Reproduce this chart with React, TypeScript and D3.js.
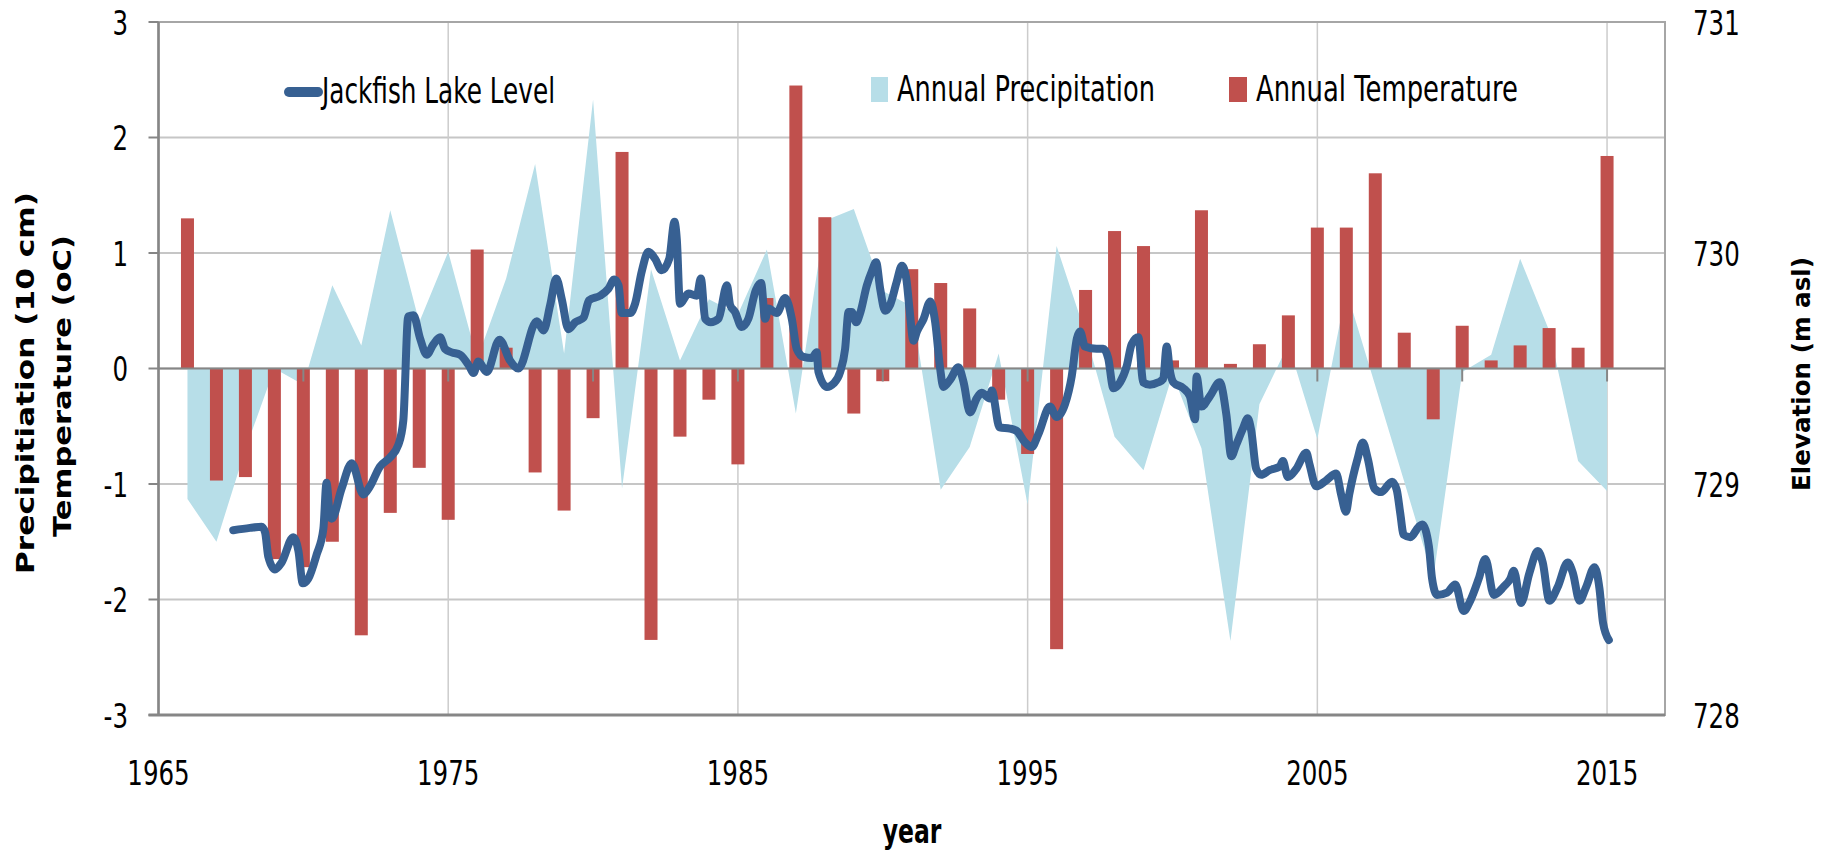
import React, { useEffect, useRef } from 'react';
import * as d3 from 'd3';

// yearly series, 1966-2015
const years = [
  1966, 1967, 1968, 1969, 1970, 1971, 1972, 1973, 1974, 1975,
  1976, 1977, 1978, 1979, 1980, 1981, 1982, 1983, 1984, 1985,
  1986, 1987, 1988, 1989, 1990, 1991, 1992, 1993, 1994, 1995,
  1996, 1997, 1998, 1999, 2000, 2001, 2002, 2003, 2004, 2005,
  2006, 2007, 2008, 2009, 2010, 2011, 2012, 2013, 2014, 2015,
];

// precipitation anomaly (10 cm)
const precipitation = [
  -1.13, -1.5, -0.7, 0.0, -0.14, 0.72, 0.2, 1.37, 0.4, 1.01,
  0.08, 0.78, 1.77, 0.13, 2.33, -1.04, 0.86, 0.07, 0.6, 0.47,
  1.03, -0.39, 1.28, 1.38, 0.67, 0.54, -1.05, -0.68, 0.13, -1.18,
  1.06, 0.3, -0.59, -0.88, -0.05, -0.69, -2.36, -0.31, 0.21, -0.61,
  0.68, -0.15, -0.98, -1.82, -0.03, 0.12, 0.95, 0.33, -0.8, -1.06,
];

// temperature anomaly (oC)
const temperature = [
  1.3, -0.97, -0.94, -1.65, -1.72, -1.5, -2.31, -1.25, -0.86, -1.31,
  1.03, 0.18, -0.9, -1.23, -0.43, 1.875, -2.35, -0.59, -0.27, -0.83,
  0.61, 2.45, 1.31, -0.39, -0.11, 0.86, 0.74, 0.52, -0.27, -0.74,
  -2.43, 0.68, 1.19, 1.06, 0.07, 1.37, 0.04, 0.21, 0.46, 1.22,
  1.22, 1.69, 0.31, -0.44, 0.37, 0.07, 0.2, 0.35, 0.18, 1.84,
];

// Jackfish Lake level (m asl), sampled off the plot
const lakeTime = [
  1967.58, 1968.16, 1968.56, 1968.68, 1968.79, 1969.02, 1969.25, 1969.65, 1969.83, 1969.98,
  1970.17, 1970.46, 1970.69, 1970.8, 1970.92, 1970.98, 1971.32, 1971.67, 1972.07, 1972.3,
  1972.64, 1972.99, 1973.28, 1973.45, 1973.62, 1973.8, 1974.03, 1974.26, 1974.49, 1974.72,
  1974.89, 1975.12, 1975.41, 1975.75, 1975.87, 1976.04, 1976.33, 1976.77, 1977.13, 1977.42,
  1978.06, 1978.29, 1978.52, 1978.73, 1978.92, 1979.15, 1979.38, 1979.67, 1979.86, 1980.24,
  1980.53, 1980.73, 1980.88, 1980.99, 1981.28, 1981.45, 1981.68, 1981.91, 1982.14, 1982.37,
  1982.63, 1982.81, 1982.89, 1983.0, 1983.29, 1983.58, 1983.72, 1983.87, 1984.06, 1984.33,
  1984.62, 1984.73, 1984.9, 1985.13, 1985.36, 1985.62, 1985.8, 1985.94, 1986.05, 1986.34,
  1986.63, 1986.86, 1987.03, 1987.26, 1987.55, 1987.72, 1987.78, 1988.07, 1988.3, 1988.53,
  1988.7, 1988.82, 1988.93, 1989.08, 1989.22, 1989.45, 1989.62, 1989.77, 1989.91, 1990.08,
  1990.25, 1990.48, 1990.66, 1990.81, 1990.92, 1991.06, 1991.18, 1991.41, 1991.64, 1991.81,
  1991.98, 1992.09, 1992.32, 1992.61, 1992.79, 1993.01, 1993.24, 1993.41, 1993.7, 1993.76,
  1994.03, 1994.39, 1994.62, 1994.91, 1995.14, 1995.37, 1995.77, 1996.0, 1996.29, 1996.52,
  1996.7, 1996.81, 1996.98, 1997.38, 1997.61, 1997.78, 1997.96, 1998.19, 1998.42, 1998.59,
  1998.82, 1998.99, 1999.22, 1999.51, 1999.68, 1999.8, 1999.91, 2000.03, 2000.37, 2000.6,
  2000.78, 2000.83, 2001.0, 2001.29, 2001.63, 2001.86, 2002.03, 2002.2, 2002.43, 2002.6,
  2002.72, 2002.89, 2003.06, 2003.35, 2003.7, 2003.81, 2003.98, 2004.27, 2004.62, 2004.73,
  2004.96, 2005.3, 2005.65, 2005.82, 2005.99, 2006.1, 2006.39, 2006.57, 2006.74, 2006.97,
  2007.2, 2007.58, 2007.74, 2007.86, 2007.98, 2008.21, 2008.5, 2008.62, 2008.85, 2008.96,
  2009.13, 2009.48, 2009.76, 2010.05, 2010.28, 2010.57, 2010.8, 2011.09, 2011.43, 2011.66,
  2011.78, 2012.03, 2012.32, 2012.61, 2012.78, 2013.01, 2013.3, 2013.64, 2013.82, 2014.05,
  2014.28, 2014.57, 2014.74, 2014.86, 2015.06,
];
const lakeLevel = [
  728.8, 728.81, 728.815, 728.79, 728.685, 728.63, 728.66, 728.77, 728.71, 728.57,
  728.59, 728.695, 728.805, 729.005, 728.86, 728.85, 728.98, 729.09, 728.955, 728.99,
  729.075, 729.115, 729.17, 729.275, 729.725, 729.73, 729.63, 729.56, 729.605, 729.635,
  729.585, 729.57, 729.56, 729.505, 729.48, 729.53, 729.485, 729.625, 729.535, 729.5,
  729.705, 729.665, 729.775, 729.89, 729.8, 729.67, 729.7, 729.72, 729.795, 729.815,
  729.845, 729.885, 729.86, 729.74, 729.74, 729.78, 729.92, 730.005, 729.975, 729.925,
  729.975, 730.135, 730.06, 729.78, 729.825, 729.815, 729.89, 729.715, 729.7, 729.715,
  729.86, 729.775, 729.745, 729.68, 729.715, 729.84, 729.87, 729.715, 729.76, 729.74,
  729.805, 729.715, 729.585, 729.55, 729.545, 729.57, 729.485, 729.42, 729.435, 729.485,
  729.585, 729.745, 729.745, 729.7, 729.74, 729.86, 729.92, 729.96, 729.845, 729.75,
  729.775, 729.875, 729.945, 729.89, 729.76, 729.62, 729.66, 729.715, 729.79, 729.7,
  729.5, 729.42, 729.45, 729.505, 729.44, 729.31, 729.37, 729.395, 729.37, 729.405,
  729.245, 729.24, 729.23, 729.18, 729.16, 729.215, 729.335, 729.29, 729.345, 729.465,
  729.63, 729.66, 729.595, 729.585, 729.585, 729.545, 729.415, 729.44, 729.51, 729.605,
  729.635, 729.44, 729.43, 729.44, 729.455, 729.595, 729.49, 729.44, 729.415, 729.38,
  729.28, 729.465, 729.335, 729.38, 729.44, 729.3, 729.12, 729.17, 729.24, 729.285,
  729.23, 729.065, 729.04, 729.06, 729.075, 729.1, 729.03, 729.065, 729.135, 729.085,
  728.99, 729.015, 729.045, 728.955, 728.88, 728.955, 729.11, 729.18, 729.11, 728.98,
  728.965, 729.01, 728.975, 728.875, 728.78, 728.77, 728.815, 728.825, 728.73, 728.59,
  728.52, 728.53, 728.565, 728.45, 728.495, 728.59, 728.675, 728.52, 728.555, 728.59,
  728.625, 728.485, 728.615, 728.71, 728.66, 728.495, 728.555, 728.66, 728.615, 728.495,
  728.555, 728.64, 728.545, 728.4, 728.325,
];

const leftTicks = [-3, -2, -1, 0, 1, 2, 3];
const rightTicks = [728, 729, 730, 731];
const yearLabels = [1965, 1975, 1985, 1995, 2005, 2015];
const zeroTicks = [1970, 1975, 1980, 1985, 1990, 1995, 2000, 2005, 2010, 2015];

const WIDTH = 1833;
const HEIGHT = 856;
const FONT = "'DejaVu Sans', Verdana, sans-serif";
const STRETCH = 1.4; // the original picture is stretched vertically

const App: React.FC = () => {
  const svgRef = useRef<SVGSVGElement>(null);

  useEffect(() => {
    if (!svgRef.current) return;
    const svg = d3.select(svgRef.current);
    svg.selectAll('*').remove();

    const left = 158.5, right = 1665, top = 22, bottom = 715;

    const x = d3.scaleLinear().domain([1965, 2017]).range([left, right]);
    const y = d3.scaleLinear().domain([-3, 3]).range([bottom, top]);
    const yR = d3.scaleLinear().domain([728, 731]).range([bottom, top]);

    // stretched horizontal text
    const label = (txt: string, tx: number, ty: number, size: number, anchor: string, weight = 'normal', len = 0) => {
      const t = svg.append('text')
        .attr('transform', `translate(${tx},${ty}) scale(1,${STRETCH})`)
        .attr('font-family', FONT)
        .attr('font-size', size)
        .attr('font-weight', weight)
        .attr('text-anchor', anchor)
        .attr('fill', '#000')
        .text(txt);
      if (len) t.attr('textLength', len).attr('lengthAdjust', 'spacingAndGlyphs');
      return t;
    };

    // gridlines
    svg.append('g')
      .selectAll('line')
      .data(leftTicks)
      .join('line')
      .attr('x1', left).attr('x2', right)
      .attr('y1', d => y(d)).attr('y2', d => y(d))
      .attr('stroke', '#c6c6c6')
      .attr('stroke-width', 2);

    svg.append('g')
      .selectAll('line')
      .data(yearLabels.slice(1))
      .join('line')
      .attr('x1', d => x(d)).attr('x2', d => x(d))
      .attr('y1', top).attr('y2', bottom)
      .attr('stroke', '#cccccc')
      .attr('stroke-width', 1.5);

    // precipitation area
    const area = d3.area<number>()
      .x((_, i) => x(years[i]))
      .y0(y(0))
      .y1(d => y(d));
    svg.append('path')
      .datum(precipitation)
      .attr('d', area)
      .attr('fill', '#b7dee8');

    // temperature bars
    const barW = 13;
    svg.append('g')
      .selectAll('rect')
      .data(temperature)
      .join('rect')
      .attr('x', (_, i) => x(years[i]) - barW / 2)
      .attr('width', barW)
      .attr('y', d => y(Math.max(0, d)))
      .attr('height', d => Math.abs(y(d) - y(0)))
      .attr('fill', '#c0504d');

    // plot border
    svg.append('rect')
      .attr('x', left).attr('y', top)
      .attr('width', right - left).attr('height', bottom - top)
      .attr('fill', 'none')
      .attr('stroke', '#a6a6a6')
      .attr('stroke-width', 2);

    // zero line with small ticks
    svg.append('line')
      .attr('x1', left).attr('x2', right)
      .attr('y1', y(0)).attr('y2', y(0))
      .attr('stroke', '#868686').attr('stroke-width', 2);
    svg.append('g')
      .selectAll('line')
      .data(zeroTicks)
      .join('line')
      .attr('x1', d => x(d)).attr('x2', d => x(d))
      .attr('y1', y(0)).attr('y2', y(0) + 13)
      .attr('stroke', '#868686').attr('stroke-width', 2);

    // left and bottom axis
    svg.append('line')
      .attr('x1', left).attr('x2', left)
      .attr('y1', top).attr('y2', bottom)
      .attr('stroke', '#868686').attr('stroke-width', 2.5);
    svg.append('line')
      .attr('x1', left - 10).attr('x2', right)
      .attr('y1', bottom).attr('y2', bottom)
      .attr('stroke', '#868686').attr('stroke-width', 3);
    svg.append('g')
      .selectAll('line')
      .data(leftTicks)
      .join('line')
      .attr('x1', left - 10).attr('x2', left)
      .attr('y1', d => y(d)).attr('y2', d => y(d))
      .attr('stroke', '#868686').attr('stroke-width', 2);

    // lake level
    const line = d3.line<number>()
      .x((_, i) => x(lakeTime[i]))
      .y(d => yR(d))
      .curve(d3.curveMonotoneX);
    svg.append('path')
      .datum(lakeLevel)
      .attr('d', line)
      .attr('fill', 'none')
      .attr('stroke', '#376092')
      .attr('stroke-width', 8)
      .attr('stroke-linejoin', 'round')
      .attr('stroke-linecap', 'round');

    // tick labels
    const capHalf = 0.729 * 24.5 * STRETCH / 2;
    leftTicks.forEach(v => label(String(v), 128, y(v) + capHalf, 24.5, 'end'));
    rightTicks.forEach(v => label(String(v), 1693, yR(v) + capHalf, 24.5, 'start'));
    yearLabels.forEach(v => label(String(v), x(v), 772 + capHalf, 24.5, 'middle'));

    label('year', 912, 843, 23.5, 'middle', 'bold');

    // axis titles
    const title = (txt: string, tx: number, ty: number, len: number, size: number) =>
      svg.append('text')
        .attr('transform', `translate(${tx},${ty}) rotate(-90)`)
        .attr('font-family', FONT)
        .attr('font-size', size)
        .attr('font-weight', 'bold')
        .attr('text-anchor', 'middle')
        .attr('textLength', len)
        .attr('lengthAdjust', 'spacingAndGlyphs')
        .attr('fill', '#000')
        .text(txt);
    title('Precipitiation (10 cm)', 34, 383, 382, 25);
    title('Temperature (oC)', 71, 386, 302, 25);
    title('Elevation (m asl)', 1810, 374, 234, 25);

    // legend
    svg.append('line')
      .attr('x1', 289).attr('x2', 318)
      .attr('y1', 92).attr('y2', 92)
      .attr('stroke', '#376092')
      .attr('stroke-width', 10)
      .attr('stroke-linecap', 'round');
    label('Jackfish Lake Level', 322, 103, 25, 'start', 'normal', 233);

    svg.append('rect')
      .attr('x', 871).attr('y', 77).attr('width', 17).attr('height', 25)
      .attr('fill', '#b7dee8');
    label('Annual Precipitation', 897, 101, 25, 'start', 'normal', 258);

    svg.append('rect')
      .attr('x', 1229).attr('y', 77).attr('width', 18).attr('height', 25)
      .attr('fill', '#c0504d');
    label('Annual Temperature', 1256, 101, 25, 'start', 'normal', 262);
  }, []);

  return (
    <svg
      ref={svgRef}
      width={WIDTH}
      height={HEIGHT}
      style={{ position: 'absolute', left: 0, top: 0, background: '#fff' }}
    />
  );
};

export default App;
